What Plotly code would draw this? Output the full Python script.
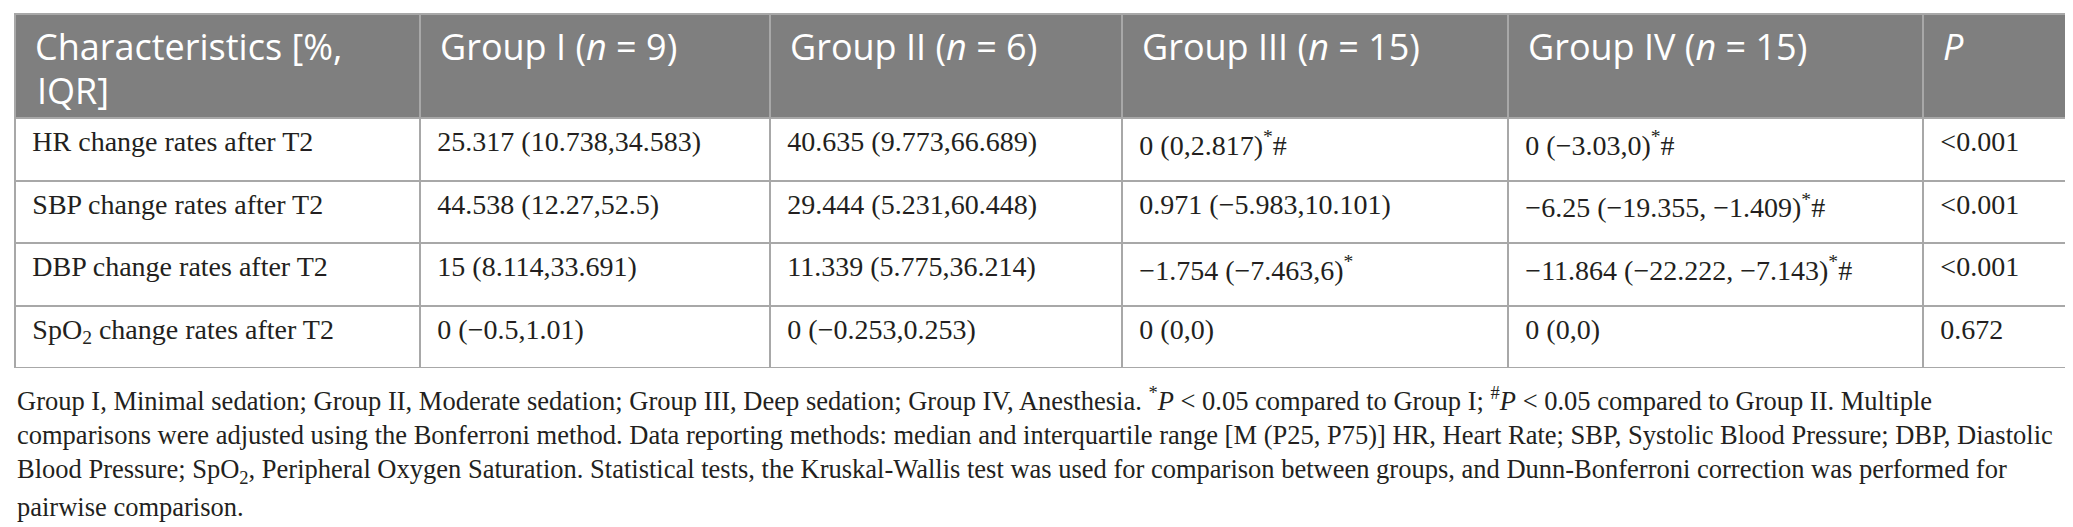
import plotly.graph_objects as go

# cabeçalho e colunas da tabela
cabecalho = ["Characteristics [%,", "Group I (<i>n</i> = 9)", "Group II (<i>n</i> = 6)",
             "Group III (<i>n</i> = 15)", "Group IV (<i>n</i> = 15)", "<i>P</i>"]
cabecalho_linha2 = "IQR]"

caracteristicas = ["HR change rates after T2", "SBP change rates after T2",
                   "DBP change rates after T2", "SpO<sub>2</sub> change rates after T2"]
grupo1 = ["25.317 (10.738,34.583)", "44.538 (12.27,52.5)", "15 (8.114,33.691)", "0 (−0.5,1.01)"]
grupo2 = ["40.635 (9.773,66.689)", "29.444 (5.231,60.448)", "11.339 (5.775,36.214)", "0 (−0.253,0.253)"]
grupo3 = ["0 (0,2.817)<sup>*</sup>#", "0.971 (−5.983,10.101)", "−1.754 (−7.463,6)<sup>*</sup>", "0 (0,0)"]
grupo4 = ["0 (−3.03,0)<sup>*</sup>#", "−6.25 (−19.355, −1.409)<sup>*</sup>#",
          "−11.864 (−22.222, −7.143)<sup>*</sup>#", "0 (0,0)"]
valores_p = ["&lt;0.001", "&lt;0.001", "&lt;0.001", "0.672"]

nota = [
    "Group I, Minimal sedation; Group II, Moderate sedation; Group III, Deep sedation; Group IV, Anesthesia. "
    "<sup>*</sup><i>P</i> &lt; 0.05 compared to Group I; <sup>#</sup><i>P</i> &lt; 0.05 compared to Group II. Multiple",
    "comparisons were adjusted using the Bonferroni method. Data reporting methods: median and interquartile range "
    "[M (P25, P75)] HR, Heart Rate; SBP, Systolic Blood Pressure; DBP, Diastolic",
    "Blood Pressure; SpO<sub>2</sub>, Peripheral Oxygen Saturation. Statistical tests, the Kruskal-Wallis test was "
    "used for comparison between groups, and Dunn-Bonferroni correction was performed for",
    "pairwise comparison.",
]

W, H = 2073, 527
cinza_linha = "#a8a8a8"
recuo = "\u2004"  # espaço estreito para afastar o texto da borda da célula


def celula(lista):
    # com a tag <span> todos os textos ficam na mesma altura dentro da linha
    return ["<span>" + recuo + t + "</span>" for t in lista]


fig = go.Figure()
fig.add_trace(go.Table(
    domain=dict(x=[7 / W, 2068 / W], y=[1 - 360 / H, 1 - 6 / H]),
    columnwidth=[405, 350, 352, 386, 415, 153],
    header=dict(values=celula(cabecalho), fill_color="#7f7f7f", line=dict(color=cinza_linha, width=2),
                align="left", height=104,
                font=dict(family="Open Sans", size=36, color="white")),
    cells=dict(values=[celula(caracteristicas), celula(grupo1), celula(grupo2),
                       celula(grupo3), celula(grupo4), celula(valores_p)],
               fill_color="white", line=dict(color=cinza_linha, width=2),
               align="left", height=62.5,
               font=dict(family="Liberation Serif", size=28, color="#231f20")),
))

# segunda linha do título da primeira coluna
fig.add_annotation(text=cabecalho_linha2, xref="paper", yref="paper", x=27 / W, y=1 - 83 / H,
                   xanchor="left", yanchor="middle", showarrow=False,
                   font=dict(family="Open Sans", size=36, color="white"))

# nota de rodapé, uma linha por anotação
y_linhas = [391, 427, 463, 499]
for i in range(len(nota)):
    fig.add_annotation(text=nota[i], xref="paper", yref="paper", x=7 / W, y=1 - y_linhas[i] / H,
                       xanchor="left", yanchor="middle", showarrow=False, align="left",
                       font=dict(family="Liberation Serif", size=26.5, color="#231f20"))

fig.update_layout(width=W, height=H, margin=dict(l=0, r=0, t=0, b=0),
                  paper_bgcolor="white", plot_bgcolor="white")

fig.write_html("out.html")
